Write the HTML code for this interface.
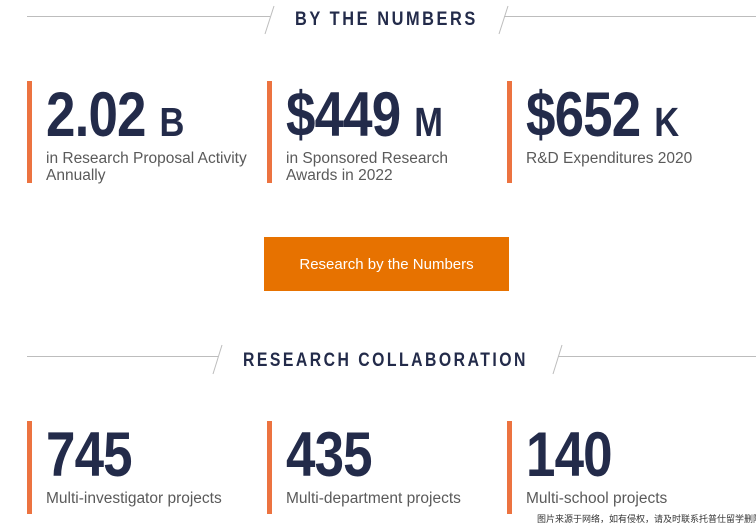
<!DOCTYPE html>
<html><head><meta charset="utf-8">
<style>
body{margin:0;background:#fff;}
#page{position:relative;width:756px;height:530px;overflow:hidden;background:#fff;font-family:"Liberation Sans","Noto Sans CJK SC",sans-serif;}
.abs{position:absolute;}
.title{position:absolute;font-weight:bold;font-size:19px;letter-spacing:3px;color:#232b4a;white-space:nowrap;transform-origin:left top;}
.bar{position:absolute;width:5px;background:#ec7340;}
.num{position:absolute;font-weight:bold;color:#232b4a;font-size:63px;line-height:63px;white-space:nowrap;transform:scaleX(0.84);transform-origin:left top;letter-spacing:-1px;}
.num span{font-size:41px;letter-spacing:0;}
.cap{position:absolute;color:#5a5a5a;font-size:15.5px;line-height:17px;white-space:nowrap;}
</style></head><body>
<div id="page">
<svg class="abs" style="left:0;top:0" width="756" height="530">
 <g stroke="#bdbdbd" stroke-width="1" fill="none">
  <line x1="27" y1="16.5" x2="270" y2="16.5"/><line x1="274" y1="6" x2="265" y2="34"/>
  <line x1="504" y1="16.5" x2="756" y2="16.5"/><line x1="508" y1="6" x2="499" y2="34"/>
  <line x1="27" y1="356.5" x2="218" y2="356.5"/><line x1="222" y1="345" x2="213" y2="374"/>
  <line x1="558" y1="356.5" x2="756" y2="356.5"/><line x1="562" y1="345" x2="553" y2="374"/>
 </g>
</svg>
<div class="title" style="left:295px;top:9px;transform:scaleX(0.86)">BY THE NUMBERS</div>
<div class="title" style="left:243px;top:350px;transform:scaleX(0.83)">RESEARCH COLLABORATION</div>

<div class="bar" style="left:27px;top:81px;height:102px"></div>
<div class="bar" style="left:267px;top:81px;height:102px"></div>
<div class="bar" style="left:507px;top:81px;height:102px"></div>
<div class="num" style="left:46px;top:84px">2.02 <span>B</span></div>
<div class="num" style="left:286px;top:84px">$449 <span>M</span></div>
<div class="num" style="left:526px;top:84px">$652 <span>K</span></div>
<div class="cap" style="left:46px;top:150px">in Research Proposal Activity<br>Annually</div>
<div class="cap" style="left:286px;top:150px">in Sponsored Research<br>Awards in 2022</div>
<div class="cap" style="left:526px;top:150px">R&amp;D Expenditures 2020</div>

<div class="abs" style="left:264px;top:237px;width:245px;height:54px;background:#e77200;color:#fff;font-size:15px;line-height:56px;text-align:center">Research by the Numbers</div>

<div class="bar" style="left:27px;top:421px;height:93px"></div>
<div class="bar" style="left:267px;top:421px;height:93px"></div>
<div class="bar" style="left:507px;top:421px;height:93px"></div>
<div class="num" style="left:46px;top:424px">745</div>
<div class="num" style="left:286px;top:424px">435</div>
<div class="num" style="left:526px;top:424px">140</div>
<div class="cap" style="left:46px;top:490px">Multi-investigator projects</div>
<div class="cap" style="left:286px;top:490px">Multi-department projects</div>
<div class="cap" style="left:526px;top:490px">Multi-school projects</div>

<div class="abs" style="left:537px;top:512px;font-size:9px;color:#333;white-space:nowrap">图片来源于网络，如有侵权，请及时联系托普仕留学删除</div>
</div>
</body></html>
